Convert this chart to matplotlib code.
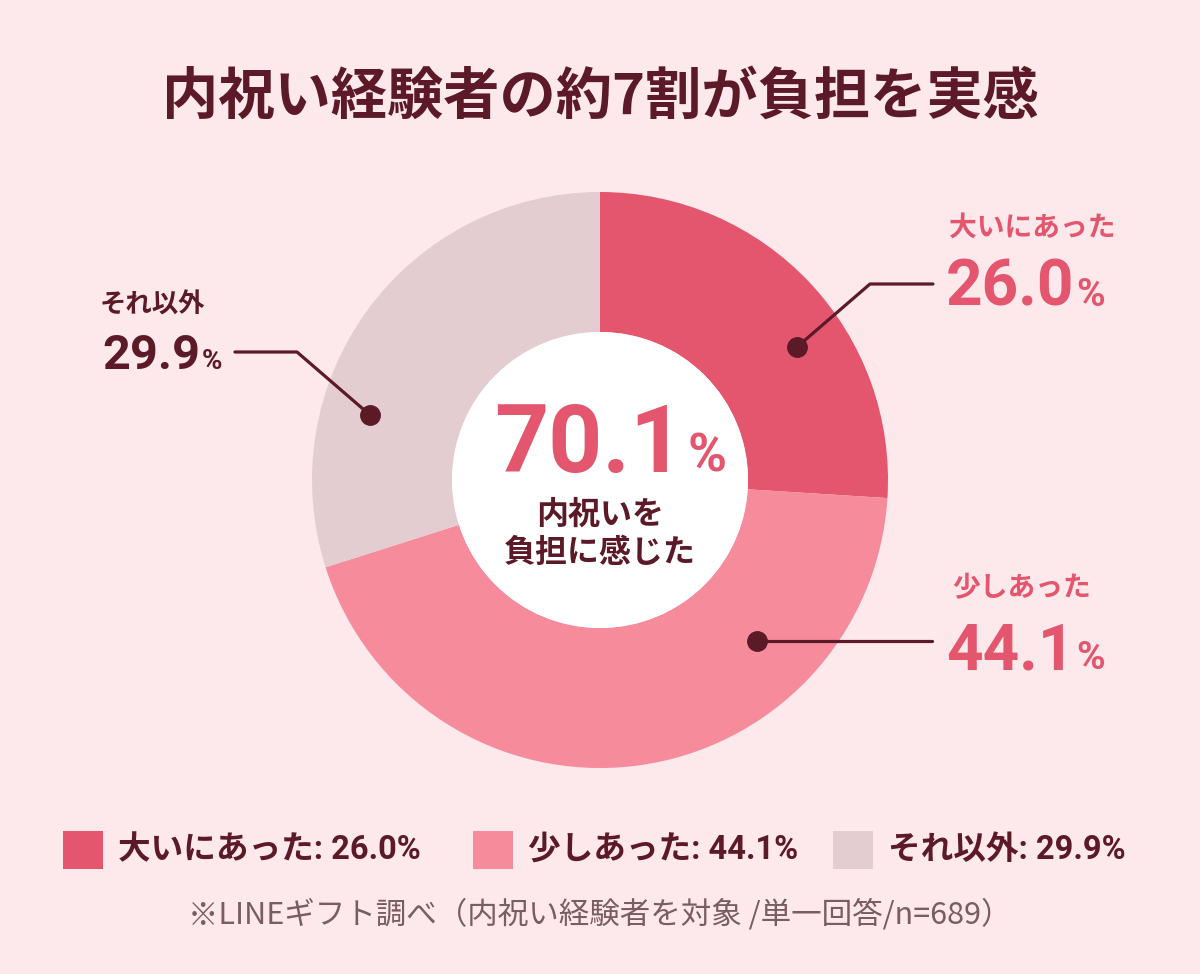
import matplotlib
matplotlib.use('Agg')
import matplotlib.pyplot as plt
from matplotlib.patches import Circle, Rectangle

plt.rcParams['font.family'] = ['Noto Sans CJK JP', 'DejaVu Sans']
NUM_FONT = ['Roboto', 'Noto Sans CJK JP', 'DejaVu Sans']

# data
categories = ['大いにあった', '少しあった', 'それ以外']
values     = [26.0, 44.1, 29.9]
colors     = ['#e4566e', '#f68b9b', '#e3cdd1']
total_label = '70.1'

BG     = '#fde9ec'
MAROON = '#5c1a28'
PINK   = '#e4566e'
W, H   = 1200, 974

fig = plt.figure(figsize=(W / 100, H / 100), dpi=100, facecolor=BG)
ax = fig.add_axes([0, 0, 1, 1])
ax.set_xlim(0, W)
ax.set_ylim(0, H)
ax.set_aspect('equal')
ax.axis('off')
ax.set_facecolor(BG)


def Y(y):
    # pixel y (top-down) -> data y
    return H - y


# donut
cx, cy, r_out, r_in = 600, 480, 288, 148
ax.pie(values, colors=colors, startangle=90, counterclock=False,
       center=(cx, Y(cy)), radius=r_out,
       wedgeprops=dict(width=r_out - r_in, linewidth=0))
ax.add_patch(Circle((cx, Y(cy)), r_in, facecolor='white', edgecolor='none', zorder=3))
ax.set_xlim(0, W)
ax.set_ylim(0, H)

renderer = fig.canvas.get_renderer()


def num_pct(x, y, num, size, pct_size, color, gap=2):
    t = ax.text(x, Y(y), num, fontsize=size, fontweight='bold', color=color,
                family=NUM_FONT, ha='left', va='baseline', zorder=5)
    bb = t.get_window_extent(renderer)
    ax.text(bb.x1 + gap, Y(y), '%', fontsize=pct_size, fontweight='bold',
            family=NUM_FONT, color=color, ha='left', va='baseline', zorder=5)


# title
ax.text(600, Y(97), '内祝い経験者の約7割が負担を実感', fontsize=40.5,
        fontweight='bold', color=MAROON, ha='center', va='center')

# centre label
num_pct(494, 472, total_label, 68, 38, PINK, gap=3)
ax.text(600, Y(515), '内祝いを', fontsize=23, fontweight='bold',
        color=MAROON, ha='center', va='center', zorder=5)
ax.text(600, Y(553), '負担に感じた', fontsize=23, fontweight='bold',
        color=MAROON, ha='center', va='center', zorder=5)

# callouts
ax.text(1032, Y(228), categories[0], fontsize=20, fontweight='bold',
        color=PINK, ha='center', va='center')
num_pct(946, 306, f'{values[0]:.1f}', 46, 28, PINK)
ax.plot([797, 870, 933], [Y(347), Y(284), Y(284)], color=MAROON, lw=2.3,
        solid_capstyle='round', zorder=6)
ax.plot([797], [Y(347)], 'o', ms=14, color=MAROON, zorder=7)

ax.text(1022, Y(588), categories[1], fontsize=20, fontweight='bold',
        color=PINK, ha='center', va='center')
num_pct(946, 669, f'{values[1]:.1f}', 46, 28, PINK)
ax.plot([757, 932], [Y(641), Y(641)], color=MAROON, lw=2.3,
        solid_capstyle='round', zorder=6)
ax.plot([757], [Y(641)], 'o', ms=14, color=MAROON, zorder=7)

ax.text(100, Y(305), categories[2], fontsize=19, fontweight='bold',
        color=MAROON, ha='left', va='center')
num_pct(102, 369, f'{values[2]:.1f}', 35, 20, MAROON)
ax.plot([235, 297, 370], [Y(352), Y(352), Y(415)], color=MAROON, lw=2.3,
        solid_capstyle='round', zorder=6)
ax.plot([370], [Y(415)], 'o', ms=14, color=MAROON, zorder=7)

# legend
leg_x = [63, 473, 833]
for lx, cat, val, col in zip(leg_x, categories, values, colors):
    ax.add_patch(Rectangle((lx, Y(869)), 40, 38, facecolor=col, edgecolor='none'))
    ax.text(lx + 55, Y(850), f'{cat}: {val:.1f}%', fontsize=23.5, fontweight='bold',
            family=NUM_FONT, color=MAROON, ha='left', va='center')

# source note
ax.text(600, Y(915), '※LINEギフト調べ（内祝い経験者を対象 /単一回答/n=689）',
        fontsize=22, color='#7a5c63', ha='center', va='center')

fig.savefig('out.png', dpi=100, facecolor=BG)
